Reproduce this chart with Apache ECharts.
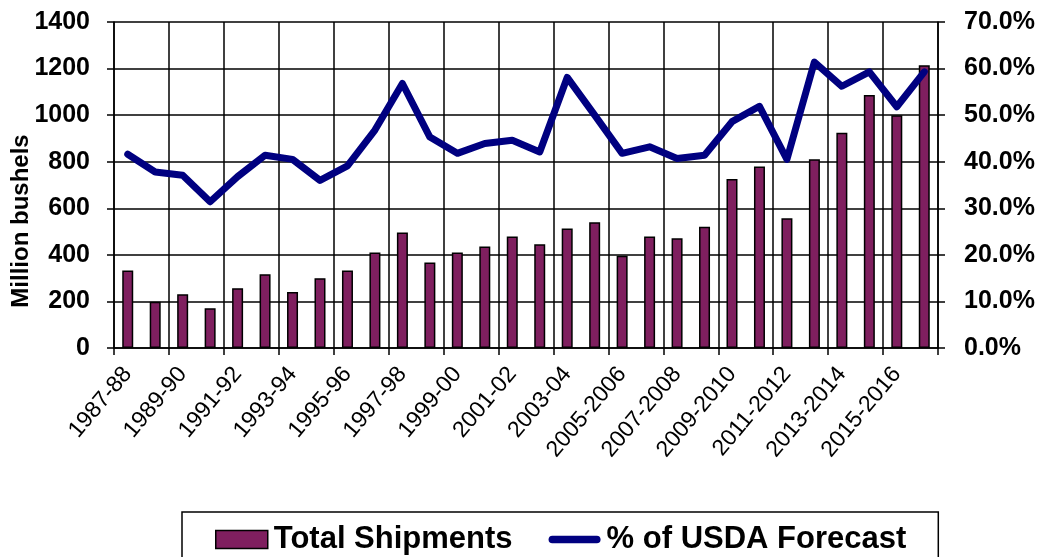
<!DOCTYPE html>
<html>
<head>
<meta charset="utf-8">
<script src="https://cdn.jsdelivr.net/npm/echarts@6/dist/echarts.min.js"></script>
<style>html,body{margin:0;padding:0;background:#fff;}#c{width:1042px;height:557px;}</style>
</head>
<body>
<div id="c"></div>
<script>
var categories = ['1987-88','1988-89','1989-90','1990-91','1991-92','1992-93','1993-94','1994-95','1995-96','1996-97','1997-98','1998-99','1999-00','2000-01','2001-02','2002-03','2003-04','2004-05','2005-2006','2006-2007','2007-2008','2008-2009','2009-2010','2010-2011','2011-2012','2012-2013','2013-2014','2014-2015','2015-2016','2016-2017'];
var totalShipments = [333,199,231,171,257,317,240,300,333,410,496,367,410,436,479,446,513,540,396,479,471,521,726,779,557,811,924,1086,1000,1214];
var pctForecast = [41.6,37.8,37.1,31.4,36.8,41.4,40.5,36.0,39.1,46.8,56.8,45.3,41.8,43.9,44.6,42.1,58.1,50.0,41.8,43.2,40.7,41.4,48.6,51.9,40.5,61.4,56.2,59.3,51.8,59.3];
var leftTicks = {min:0, max:1400, interval:200};
var rightTicks = {min:0, max:70, interval:10};

var chart = echarts.init(document.getElementById('c'), null, {renderer:'canvas'});
var font = 'Liberation Sans, Arial, sans-serif';
chart.setOption({
  animation:false,
  backgroundColor:'#fff',
  textStyle:{fontFamily:font},
  grid:{left:114, right:104, top:22, bottom:209, containLabel:false, outerBoundsMode:'none'},
  legend:{
    left:182, top:512, orient:'horizontal',
    borderColor:'#000', borderWidth:1.5,
    padding:[12,32,40,33],
    itemWidth:52, itemHeight:18, itemGap:36,
    textStyle:{fontFamily:font, fontWeight:'bold', fontSize:31, color:'#000', padding:[0,0,0,1]},
    data:[
      {name:'Total Shipments', icon:'rect', itemStyle:{color:'#7F1F5F', borderColor:'#000', borderWidth:1.5}},
      {name:'% of USDA Forecast', icon:'path://M4,0 H51 A4,4 0 0 1 51,8 H4 A4,4 0 0 1 4,0 Z', itemStyle:{color:'#000080', borderWidth:0}}
    ]
  },
  xAxis:{
    type:'category', data:categories, boundaryGap:true,
    axisLine:{lineStyle:{color:'#000', width:1.5}},
    axisTick:{show:true, interval:1, length:7, alignWithLabel:false, lineStyle:{color:'#000', width:1.5}},
    axisLabel:{interval:1, rotate:50, fontSize:23, color:'#000', fontFamily:font, margin:22},
    splitLine:{show:true, interval:1, lineStyle:{color:'#000', width:1.5}}
  },
  yAxis:[
    {
      type:'value', min:leftTicks.min, max:leftTicks.max, interval:leftTicks.interval,
      name:'Million bushels', nameLocation:'middle', nameGap:81, nameMoveOverlap:false,
      nameTextStyle:{fontFamily:font, fontWeight:'bold', fontSize:24, color:'#000', padding:[0,72,0,0]},
      axisLine:{show:true, lineStyle:{color:'#000', width:1.5}},
      axisTick:{show:true, length:7, lineStyle:{color:'#000', width:1.5}},
      axisLabel:{fontSize:25, fontWeight:'bold', color:'#000', fontFamily:font, margin:24,
        formatter:function(v){return String(v);}},
      splitLine:{show:true, lineStyle:{color:'#000', width:1.5}}
    },
    {
      type:'value', min:rightTicks.min, max:rightTicks.max, interval:rightTicks.interval, position:'right',
      axisLine:{show:true, lineStyle:{color:'#000', width:1.5}},
      axisTick:{show:true, length:7, lineStyle:{color:'#000', width:1.5}},
      axisLabel:{fontSize:25, fontWeight:'bold', color:'#000', fontFamily:font, margin:26,
        formatter:function(v){return v.toFixed(1)+'%';}},
      splitLine:{show:false}
    }
  ],
  series:[
    {
      name:'Total Shipments', type:'bar', data:totalShipments, yAxisIndex:0,
      barWidth:11,
      itemStyle:{color:'#7F1F5F', borderColor:'#000', borderWidth:1.5}
    },
    {
      name:'% of USDA Forecast', type:'line', data:pctForecast, yAxisIndex:1,
      symbol:'none', smooth:false,
      lineStyle:{color:'#000080', width:7, cap:'round', join:'round'},
      itemStyle:{color:'#000080'}
    }
  ]
});
</script>
</body>
</html>
